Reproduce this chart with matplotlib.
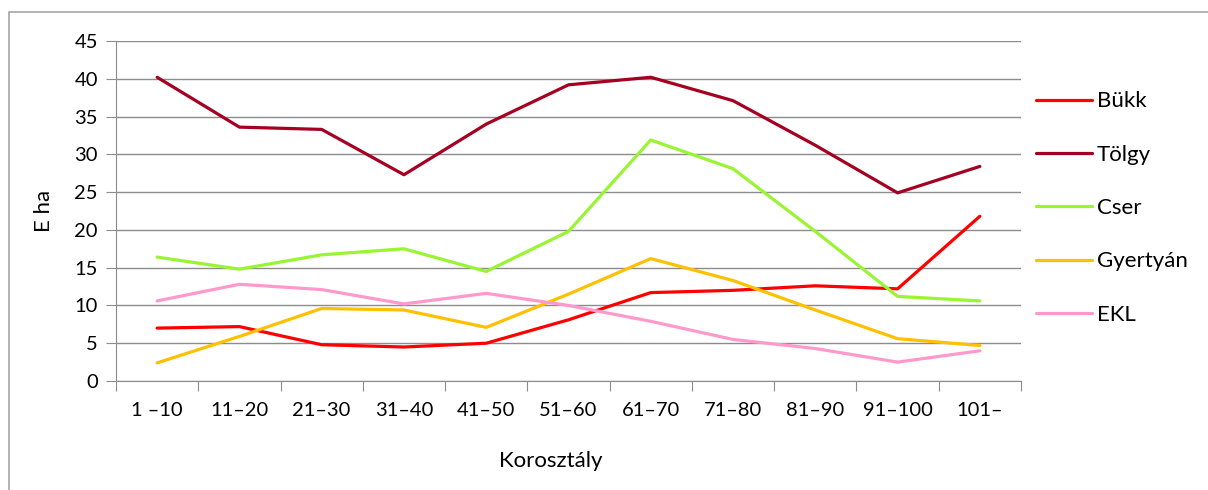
import matplotlib
matplotlib.use("Agg")
import matplotlib.pyplot as plt
from matplotlib.patches import Rectangle

plt.rcParams['font.family'] = ['Lato', 'DejaVu Sans']

# korosztalyok
categories = ["1 \u201310", "11\u201320", "21\u201330", "31\u201340", "41\u201350", "51\u201360",
              "61\u201370", "71\u201380", "81\u201390", "91\u2013100", "101\u2013"]

bukk = [7.0, 7.2, 4.8, 4.5, 5.0, 8.1, 11.7, 12.0, 12.6, 12.2, 21.8]
tolgy = [40.2, 33.6, 33.3, 27.3, 34.0, 39.2, 40.2, 37.1, 31.2, 24.9, 28.4]
cser = [16.4, 14.8, 16.7, 17.5, 14.5, 19.8, 31.9, 28.1, 19.8, 11.2, 10.6]
gyertyan = [2.4, 5.9, 9.6, 9.4, 7.1, 11.5, 16.2, 13.3, 9.4, 5.6, 4.7]
ekl = [10.6, 12.8, 12.1, 10.2, 11.6, 10.0, 7.9, 5.5, 4.3, 2.5, 4.0]

series = [("Bükk", bukk, "#FF0000"),
          ("Tölgy", tolgy, "#A50021"),
          ("Cser", cser, "#99F532"),
          ("Gyertyán", gyertyan, "#FFC000"),
          ("EKL", ekl, "#FF99CC")]

W, H = 1208, 490
fig = plt.figure(figsize=(W / 100, H / 100), dpi=100)
ax = fig.add_axes([116 / W, 1 - 381 / H, (1021 - 116) / W, (381 - 41) / H])

x = list(range(len(categories)))
for name, vals, col in series:
    ax.plot(x, vals, color=col, lw=2.3, label=name, solid_capstyle='round')

ax.set_xlim(-0.5, len(categories) - 0.5)
ax.set_ylim(0, 45)
ax.set_yticks(range(0, 46, 5))
ax.grid(axis='y', color='#8c8c8c', lw=1.0)
ax.set_axisbelow(True)

# tick marks at category boundaries, labels at centers
ax.set_xticks([i - 0.5 for i in range(len(categories) + 1)])
ax.set_xticklabels([])
ax.set_xticks(x, minor=True)
ax.set_xticklabels(categories, minor=True)
ax.tick_params(axis='x', which='major', length=7, color='#8c8c8c', direction='out')
ax.tick_params(axis='x', which='minor', length=0, pad=15, labelsize=14.5)
ax.tick_params(axis='y', length=7, color='#8c8c8c', labelsize=14.5, pad=6)

for s in ['top', 'right']:
    ax.spines[s].set_visible(False)
for s in ['left', 'bottom']:
    ax.spines[s].set_color('#8c8c8c')

ax.set_ylabel("E ha", fontsize=16)
ax.yaxis.set_label_coords(-62 / 905, 0.5)
ax.set_xlabel("Korosztály", fontsize=16)
ax.xaxis.set_label_coords(0.48, -(451 - 381) / 340)

leg = ax.legend(loc='center left', bbox_to_anchor=(1016 / W, 1 - 208 / H),
                bbox_transform=fig.transFigure, frameon=False, fontsize=16,
                handlelength=2.5, labelspacing=1.5, handletextpad=0.25)

# outer chart frame (runs off the right and bottom edges)
fig.patches.append(Rectangle((9 / W, -0.1), 1.2, 1.1 - 12 / H,
                             transform=fig.transFigure, fill=False,
                             edgecolor='#a6a6a6', lw=1.2))

fig.savefig("out.png", dpi=100)
